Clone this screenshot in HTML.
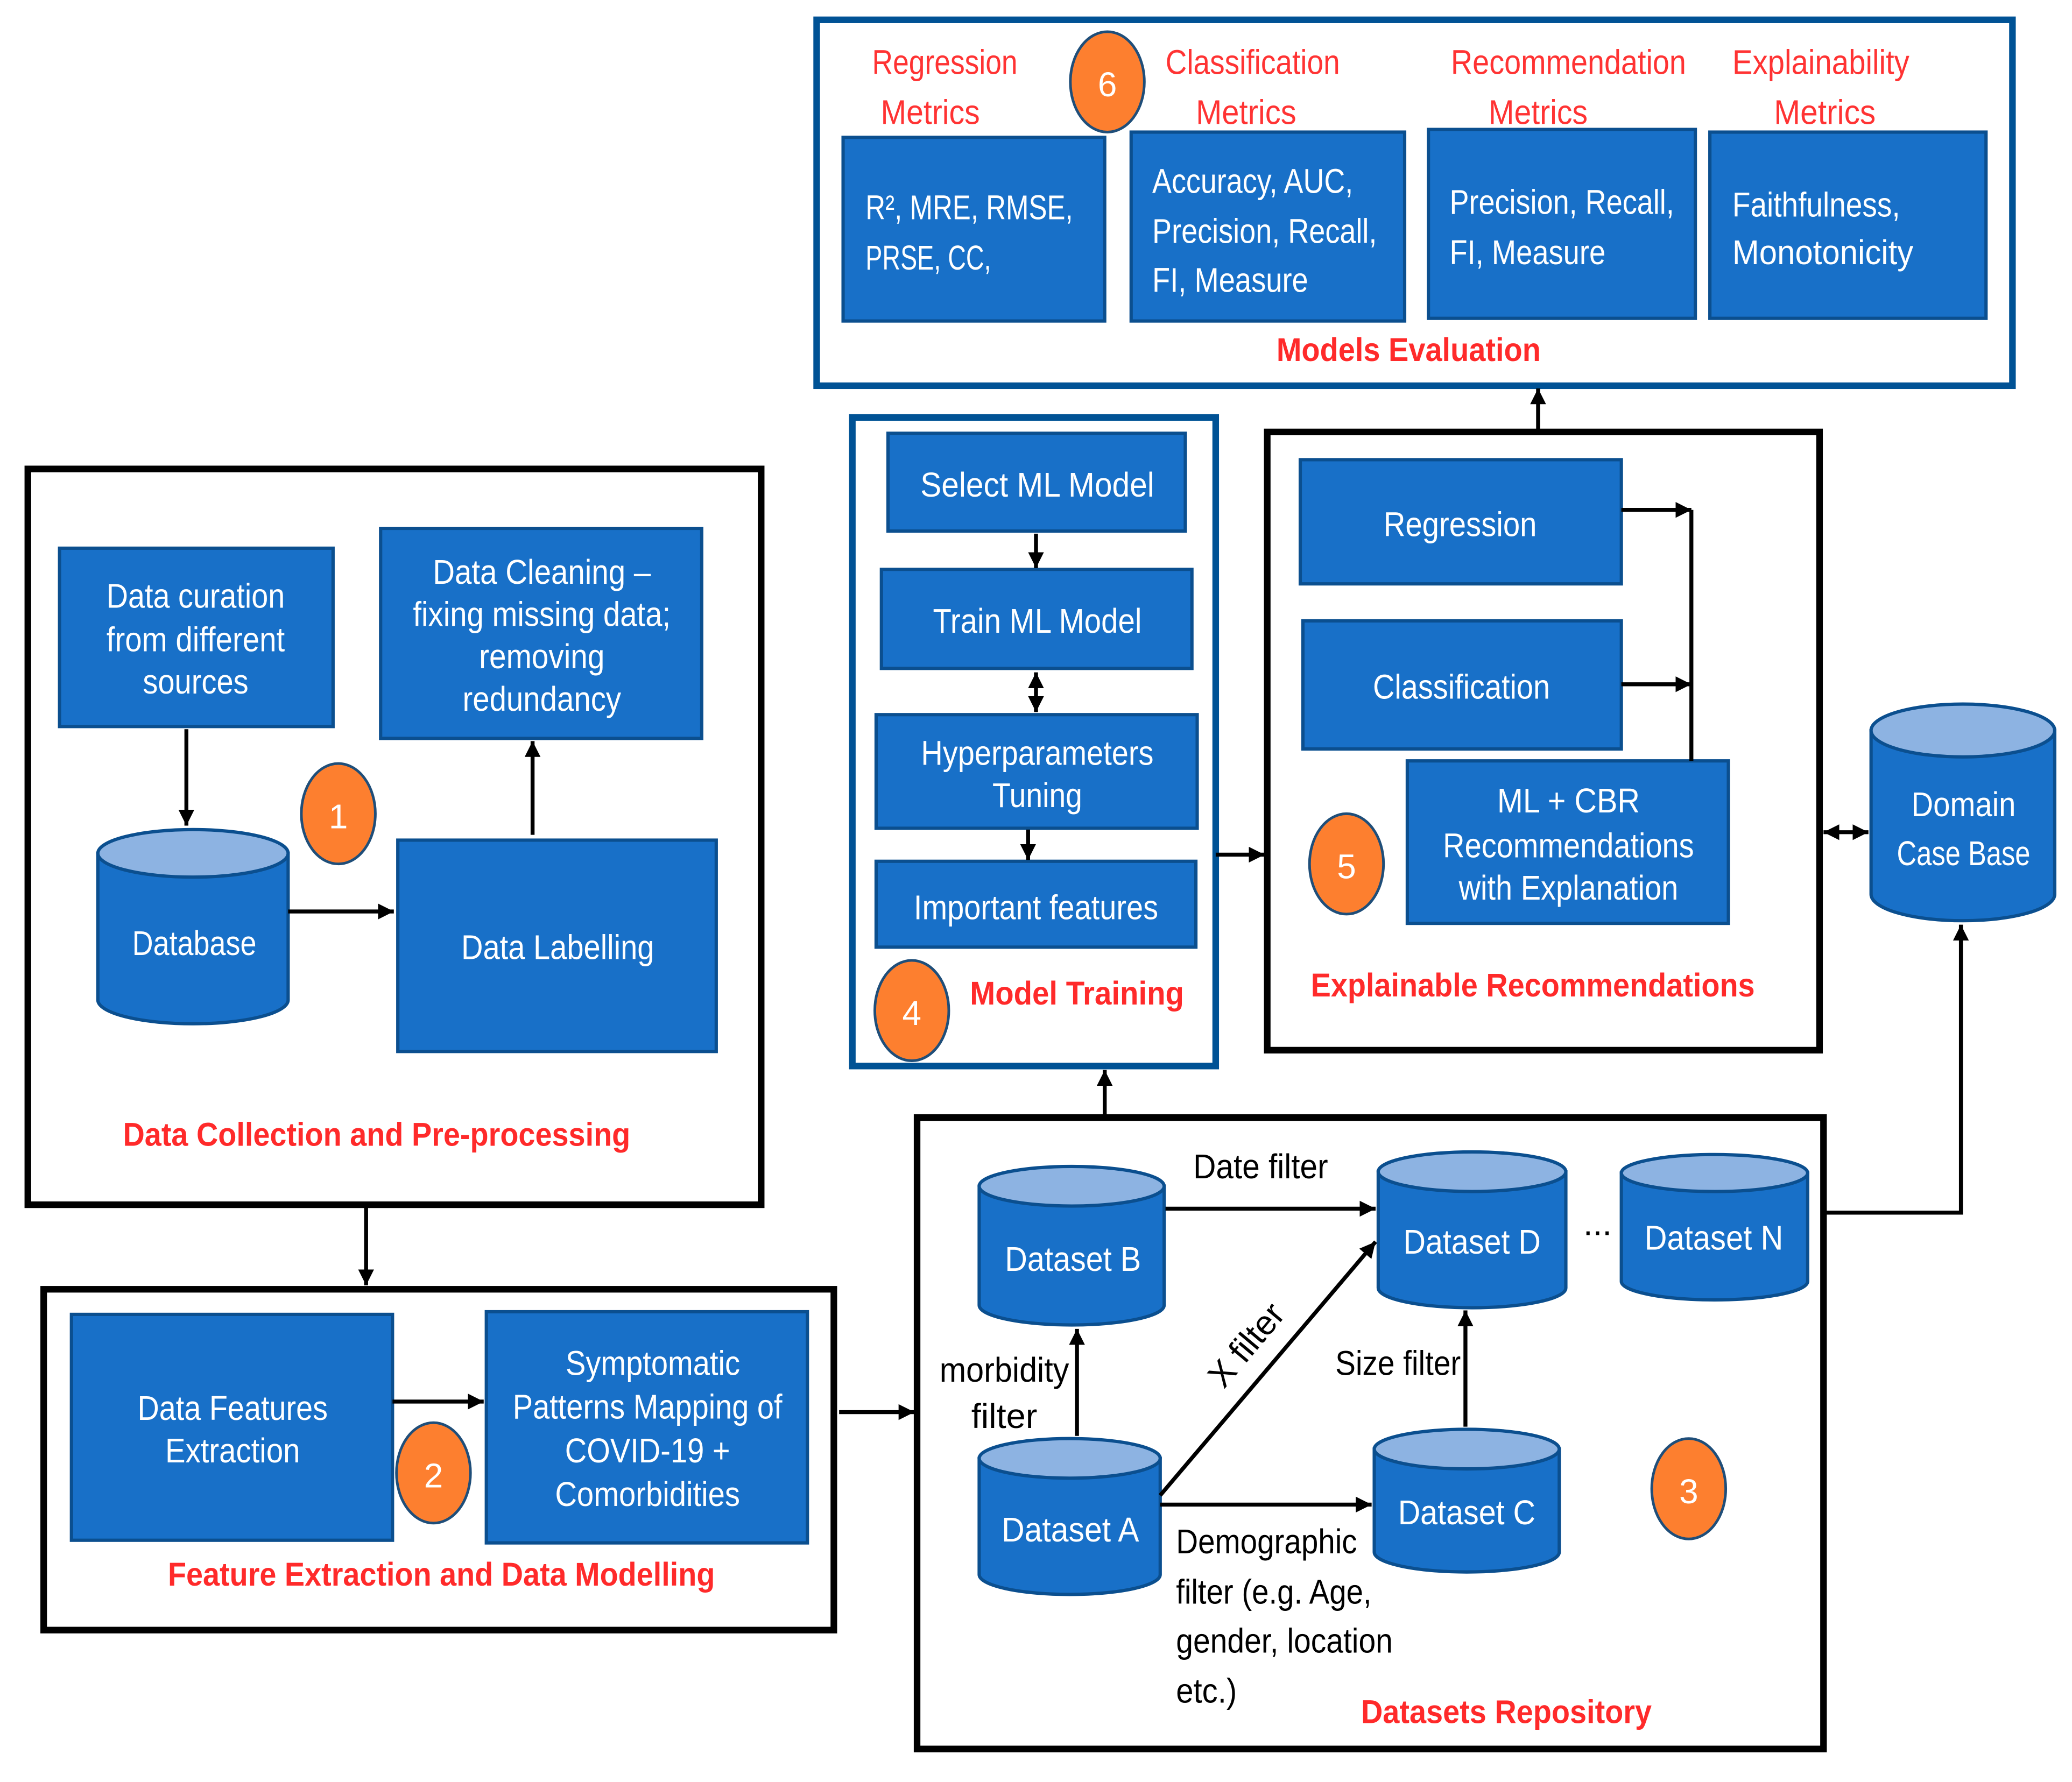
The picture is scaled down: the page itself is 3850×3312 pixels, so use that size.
<!DOCTYPE html>
<html><head><meta charset="utf-8"><style>
html,body{margin:0;padding:0;background:#fff;}
svg{display:block;}
text{font-family:"Liberation Sans Narrow","Liberation Sans",sans-serif;}
.w{fill:#fff;font-size:26px;text-anchor:middle;dominant-baseline:central;}
.wl{fill:#fff;font-size:26px;dominant-baseline:central;}
.r{fill:#ff3333;font-size:26px;text-anchor:middle;dominant-baseline:central;}
.rb{fill:#ff2a2a;font-size:25px;font-weight:bold;text-anchor:middle;dominant-baseline:central;}
.k{fill:#000;font-size:26px;text-anchor:middle;dominant-baseline:central;}
.kl{fill:#000;font-size:26px;dominant-baseline:central;}
.bx{fill:#1870c8;stroke:#0b4f8f;stroke-width:2.5;}
.cyl{fill:#1870c8;stroke:#0b4f8f;stroke-width:2.5;}
.cyt{fill:#8db3e2;stroke:#0b4f8f;stroke-width:2.5;}
.ln{stroke:#000;stroke-width:3;fill:none;}
.oc{fill:#fd7f2f;stroke:#1f4e79;stroke-width:2;}
</style></head><body>
<svg width="3850" height="3312" viewBox="0 0 1568 1349" xmlns="http://www.w3.org/2000/svg">
<defs>
<marker id="a" markerUnits="userSpaceOnUse" markerWidth="14" markerHeight="14" refX="12" refY="6" orient="auto-start-reverse"><path d="M0,0 L12,6 L0,12 Z" fill="#000"/></marker>
</defs>
<rect width="1568" height="1349" fill="#fff"/>

<!-- Models Evaluation -->
<rect x="618" y="15" width="905" height="277" fill="none" stroke="#005295" stroke-width="5"/>
<rect class="bx" x="638" y="104" width="198" height="139"/>
<rect class="bx" x="856" y="100" width="207" height="143"/>
<rect class="bx" x="1081" y="98" width="202" height="143"/>
<rect class="bx" x="1294" y="100" width="209" height="141"/>
<text class="r" x="715" y="47" textLength="110" lengthAdjust="spacingAndGlyphs">Regression</text>
<text class="r" x="704" y="85" textLength="75" lengthAdjust="spacingAndGlyphs">Metrics</text>
<text class="r" x="948" y="47" textLength="132" lengthAdjust="spacingAndGlyphs">Classification</text>
<text class="r" x="943" y="85" textLength="76" lengthAdjust="spacingAndGlyphs">Metrics</text>
<text class="r" x="1187" y="47" textLength="178" lengthAdjust="spacingAndGlyphs">Recommendation</text>
<text class="r" x="1164" y="85" textLength="75" lengthAdjust="spacingAndGlyphs">Metrics</text>
<text class="r" x="1378" y="47" textLength="134" lengthAdjust="spacingAndGlyphs">Explainability</text>
<text class="r" x="1381" y="85" textLength="77" lengthAdjust="spacingAndGlyphs">Metrics</text>
<ellipse class="oc" cx="838" cy="62" rx="28" ry="38"/>
<text class="w" x="838" y="64">6</text>
<text class="wl" x="655" y="157" textLength="157" lengthAdjust="spacingAndGlyphs">R², MRE, RMSE,</text>
<text class="wl" x="655" y="195" textLength="95" lengthAdjust="spacingAndGlyphs">PRSE, CC,</text>
<text class="wl" x="872" y="137" textLength="152" lengthAdjust="spacingAndGlyphs">Accuracy, AUC,</text>
<text class="wl" x="872" y="175" textLength="170" lengthAdjust="spacingAndGlyphs">Precision, Recall,</text>
<text class="wl" x="872" y="212" textLength="118" lengthAdjust="spacingAndGlyphs">FI, Measure</text>
<text class="wl" x="1097" y="153" textLength="170" lengthAdjust="spacingAndGlyphs">Precision, Recall,</text>
<text class="wl" x="1097" y="191" textLength="118" lengthAdjust="spacingAndGlyphs">FI, Measure</text>
<text class="wl" x="1311" y="155" textLength="127" lengthAdjust="spacingAndGlyphs">Faithfulness,</text>
<text class="wl" x="1311" y="191" textLength="137" lengthAdjust="spacingAndGlyphs">Monotonicity</text>
<text class="rb" x="1066" y="265" textLength="200" lengthAdjust="spacingAndGlyphs">Models Evaluation</text>

<!-- Data Collection -->
<rect x="21" y="355" width="555" height="557" fill="none" stroke="#000" stroke-width="5"/>
<rect class="bx" x="45" y="415" width="207" height="135"/>
<text class="w" x="148" y="451" textLength="135" lengthAdjust="spacingAndGlyphs">Data curation</text>
<text class="w" x="148" y="484" textLength="135" lengthAdjust="spacingAndGlyphs">from different</text>
<text class="w" x="148" y="516" textLength="80" lengthAdjust="spacingAndGlyphs">sources</text>
<rect class="bx" x="288" y="400" width="243" height="159"/>
<text class="w" x="410" y="433" textLength="165" lengthAdjust="spacingAndGlyphs">Data Cleaning –</text>
<text class="w" x="410" y="465" textLength="195" lengthAdjust="spacingAndGlyphs">fixing missing data;</text>
<text class="w" x="410" y="497" textLength="95" lengthAdjust="spacingAndGlyphs">removing</text>
<text class="w" x="410" y="529" textLength="120" lengthAdjust="spacingAndGlyphs">redundancy</text>
<ellipse class="oc" cx="256" cy="616" rx="28" ry="38"/>
<text class="w" x="256" y="618">1</text>
<path class="cyl" d="M74,646 L74,757 A72,18 0 0 0 218,757 L218,646 Z"/>
<ellipse class="cyt" cx="146" cy="646" rx="72" ry="18"/>
<text class="w" x="147" y="714" textLength="94" lengthAdjust="spacingAndGlyphs">Database</text>
<rect class="bx" x="301" y="636" width="241" height="160"/>
<text class="w" x="422" y="717" textLength="146" lengthAdjust="spacingAndGlyphs">Data Labelling</text>
<line class="ln" x1="141" y1="552" x2="141" y2="625" marker-end="url(#a)"/>
<line class="ln" x1="218" y1="690" x2="298" y2="690" marker-end="url(#a)"/>
<line class="ln" x1="403" y1="632" x2="403" y2="561" marker-end="url(#a)"/>
<text class="rb" x="285" y="859" textLength="384" lengthAdjust="spacingAndGlyphs">Data Collection and Pre-processing</text>
<line class="ln" x1="277" y1="912" x2="277" y2="973" marker-end="url(#a)"/>

<!-- Feature Extraction -->
<rect x="33" y="976" width="598" height="258" fill="none" stroke="#000" stroke-width="5"/>
<rect class="bx" x="54" y="995" width="243" height="171"/>
<text class="w" x="176" y="1066" textLength="144" lengthAdjust="spacingAndGlyphs">Data Features</text>
<text class="w" x="176" y="1098" textLength="102" lengthAdjust="spacingAndGlyphs">Extraction</text>
<rect class="bx" x="368" y="993" width="243" height="175"/>
<text class="w" x="494" y="1032" textLength="132" lengthAdjust="spacingAndGlyphs">Symptomatic</text>
<text class="w" x="490" y="1065" textLength="204" lengthAdjust="spacingAndGlyphs">Patterns Mapping of</text>
<text class="w" x="490" y="1098" textLength="125" lengthAdjust="spacingAndGlyphs">COVID-19 +</text>
<text class="w" x="490" y="1131" textLength="140" lengthAdjust="spacingAndGlyphs">Comorbidities</text>
<line class="ln" x1="297" y1="1061" x2="366" y2="1061" marker-end="url(#a)"/>
<ellipse class="oc" cx="328" cy="1115" rx="28" ry="38"/>
<text class="w" x="328" y="1117">2</text>
<text class="rb" x="334" y="1192" textLength="414" lengthAdjust="spacingAndGlyphs">Feature Extraction and Data Modelling</text>
<line class="ln" x1="635" y1="1069" x2="692" y2="1069" marker-end="url(#a)"/>

<!-- Model Training -->
<rect x="645" y="316" width="275" height="491" fill="none" stroke="#005295" stroke-width="5"/>
<rect class="bx" x="672" y="328" width="225" height="74"/>
<text class="w" x="785" y="367" textLength="177" lengthAdjust="spacingAndGlyphs">Select ML  Model</text>
<rect class="bx" x="667" y="431" width="235" height="75"/>
<text class="w" x="785" y="470" textLength="158" lengthAdjust="spacingAndGlyphs">Train ML Model</text>
<rect class="bx" x="663" y="541" width="243" height="86"/>
<text class="w" x="785" y="570" textLength="176" lengthAdjust="spacingAndGlyphs">Hyperparameters</text>
<text class="w" x="785" y="602" textLength="68" lengthAdjust="spacingAndGlyphs">Tuning</text>
<rect class="bx" x="663" y="652" width="242" height="65"/>
<text class="w" x="784" y="687" textLength="185" lengthAdjust="spacingAndGlyphs">Important features</text>
<line class="ln" x1="784" y1="404" x2="784" y2="430" marker-end="url(#a)"/>
<line class="ln" x1="784" y1="509" x2="784" y2="539" marker-start="url(#a)" marker-end="url(#a)"/>
<line class="ln" x1="778" y1="628" x2="778" y2="651" marker-end="url(#a)"/>
<ellipse class="oc" cx="690" cy="765" rx="28" ry="38"/>
<text class="w" x="690" y="767">4</text>
<text class="rb" x="815" y="752" textLength="162" lengthAdjust="spacingAndGlyphs">Model Training</text>
<line class="ln" x1="920" y1="647" x2="957" y2="647" marker-end="url(#a)"/>

<!-- Explainable Recommendations -->
<rect x="959" y="327" width="418" height="468" fill="none" stroke="#000" stroke-width="5"/>
<rect class="bx" x="984" y="348" width="243" height="94"/>
<text class="w" x="1105" y="397" textLength="116" lengthAdjust="spacingAndGlyphs">Regression</text>
<rect class="bx" x="986" y="470" width="241" height="97"/>
<text class="w" x="1106" y="520" textLength="134" lengthAdjust="spacingAndGlyphs">Classification</text>
<rect class="bx" x="1065" y="576" width="243" height="123"/>
<text class="w" x="1187" y="606" textLength="108" lengthAdjust="spacingAndGlyphs">ML + CBR</text>
<text class="w" x="1187" y="640" textLength="190" lengthAdjust="spacingAndGlyphs">Recommendations</text>
<text class="w" x="1187" y="672" textLength="166" lengthAdjust="spacingAndGlyphs">with Explanation</text>
<line class="ln" x1="1280" y1="386" x2="1280" y2="576"/>
<line class="ln" x1="1227" y1="386" x2="1280" y2="386" marker-end="url(#a)"/>
<line class="ln" x1="1227" y1="518" x2="1280" y2="518" marker-end="url(#a)"/>
<ellipse class="oc" cx="1019" cy="654" rx="28" ry="38"/>
<text class="w" x="1019" y="656">5</text>
<text class="rb" x="1160" y="746" textLength="336" lengthAdjust="spacingAndGlyphs">Explainable Recommendations</text>
<line class="ln" x1="1164" y1="325" x2="1164" y2="294" marker-end="url(#a)"/>
<line class="ln" x1="1380" y1="630" x2="1414" y2="630" marker-start="url(#a)" marker-end="url(#a)"/>

<!-- Domain Case Base -->
<path class="cyl" d="M1416,553 L1416,677 A69.5,20 0 0 0 1555,677 L1555,553 Z"/>
<ellipse class="cyt" cx="1485.5" cy="553" rx="69.5" ry="20"/>
<text class="w" x="1486" y="609" textLength="79" lengthAdjust="spacingAndGlyphs">Domain</text>
<text class="w" x="1486" y="646" textLength="101" lengthAdjust="spacingAndGlyphs">Case Base</text>

<!-- Datasets Repository -->
<rect x="694" y="846" width="686" height="478" fill="none" stroke="#000" stroke-width="5"/>
<line class="ln" x1="836" y1="846" x2="836" y2="810" marker-end="url(#a)"/>
<path class="cyl" d="M741,898 L741,988 A70,15 0 0 0 881,988 L881,898 Z"/>
<ellipse class="cyt" cx="811" cy="898" rx="70" ry="15"/>
<text class="w" x="812" y="953" textLength="103" lengthAdjust="spacingAndGlyphs">Dataset  B</text>
<path class="cyl" d="M1043,887 L1043,975 A71,15 0 0 0 1185,975 L1185,887 Z"/>
<ellipse class="cyt" cx="1114" cy="887" rx="71" ry="15"/>
<text class="w" x="1114" y="940" textLength="104" lengthAdjust="spacingAndGlyphs">Dataset  D</text>
<text class="k" x="1209" y="926">...</text>
<path class="cyl" d="M1227,888 L1227,970 A70.5,14 0 0 0 1368,970 L1368,888 Z"/>
<ellipse class="cyt" cx="1297.5" cy="888" rx="70.5" ry="14"/>
<text class="w" x="1297" y="937" textLength="105" lengthAdjust="spacingAndGlyphs">Dataset  N</text>
<path class="cyl" d="M741,1104 L741,1192 A68.5,15 0 0 0 878,1192 L878,1104 Z"/>
<ellipse class="cyt" cx="809.5" cy="1104" rx="68.5" ry="15"/>
<text class="w" x="810" y="1158" textLength="104" lengthAdjust="spacingAndGlyphs">Dataset  A</text>
<path class="cyl" d="M1040,1097 L1040,1175 A70,15 0 0 0 1180,1175 L1180,1097 Z"/>
<ellipse class="cyt" cx="1110" cy="1097" rx="70" ry="15"/>
<text class="w" x="1110" y="1145" textLength="104" lengthAdjust="spacingAndGlyphs">Dataset  C</text>
<line class="ln" x1="882" y1="915" x2="1041" y2="915" marker-end="url(#a)"/>
<text class="k" x="954" y="883" textLength="102" lengthAdjust="spacingAndGlyphs">Date filter</text>
<line class="ln" x1="815" y1="1087" x2="815" y2="1006" marker-end="url(#a)"/>
<text class="k" x="760" y="1037" textLength="98" lengthAdjust="spacingAndGlyphs">morbidity</text>
<text class="k" x="760" y="1072" textLength="50" lengthAdjust="spacingAndGlyphs">filter</text>
<line class="ln" x1="878" y1="1132" x2="1041" y2="940" marker-end="url(#a)"/>
<text class="k" x="943" y="1018" transform="rotate(-50 943 1018)">X filter</text>
<line class="ln" x1="878" y1="1139" x2="1038" y2="1139" marker-end="url(#a)"/>
<line class="ln" x1="1109" y1="1080" x2="1109" y2="992" marker-end="url(#a)"/>
<text class="k" x="1058" y="1032" textLength="95" lengthAdjust="spacingAndGlyphs">Size filter</text>
<text class="kl" x="890" y="1167" textLength="137" lengthAdjust="spacingAndGlyphs">Demographic</text>
<text class="kl" x="890" y="1205" textLength="148" lengthAdjust="spacingAndGlyphs">filter (e.g. Age,</text>
<text class="kl" x="890" y="1242" textLength="164" lengthAdjust="spacingAndGlyphs">gender, location</text>
<text class="kl" x="890" y="1280" textLength="46" lengthAdjust="spacingAndGlyphs">etc.)</text>
<ellipse class="oc" cx="1278" cy="1127" rx="28" ry="38"/>
<text class="w" x="1278" y="1129">3</text>
<text class="rb" x="1140" y="1296" textLength="220" lengthAdjust="spacingAndGlyphs">Datasets Repository</text>
<polyline class="ln" points="1382,918 1484,918 1484,700" marker-end="url(#a)"/>
</svg>
</body></html>
